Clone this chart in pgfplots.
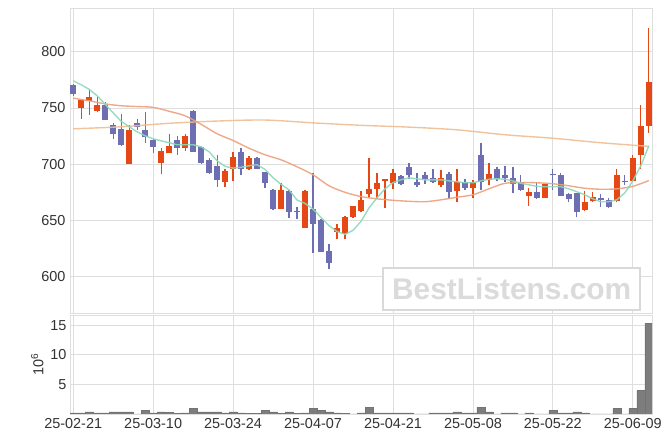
\documentclass[border=0pt]{standalone}
\usepackage{fontspec}
\setmainfont{Liberation Sans}
\usepackage{pgfplots}
\pgfplotsset{compat=1.18}
\usepackage{pgfplotstable}

\definecolor{upc}{RGB}{229,72,20}
\definecolor{dnc}{RGB}{110,110,178}
\definecolor{ma5}{RGB}{140,216,186}
\definecolor{ma20}{RGB}{236,160,125}
\definecolor{ma60}{RGB}{240,188,145}
\definecolor{gridc}{RGB}{222,222,222}
\definecolor{volc}{RGB}{125,125,125}

\pgfplotstableread{
i o h l c
1 750 757 740 757
2 756 767 744 760
3 747 760 746 753
7 700.5 735 700 730
11 701 714 691 712
12 710 727 710 716
14 714 727 712 725
19 684 696 680 694
20 696 711 685 706
22 696 707 695 705
26 660 683 660 677
29 643 677 643 676
33 640 647 633 643
34 638 654 633 653
35 653 663 652 663
36 658 676 657 668
37 673 705 670 678
38 678 692 669 683
39 685 687 661 687
40 683 696 678 692
46 681 695 680 688
48 676 696 666 684
50 679 686 670 684
52 686 701 681 691
57 672 679 663 675
59 670 682 670 682
64 659 676 658 666
65 667 675 666 671
68 667 696 666 690
70 685 708 684 705
71 708 753 696 734
72 734 821 728 773
}\upT

\pgfplotstableread{
i o h l c
0 770 771 761 762
4 753 755 739 739
5 735 737 722 727
6 731 745 716 717
8 737 740 730 733
9 730 746 719 724
10 721 722 710 715
13 721 725 708 714
15 747 748 711 711
16 715 716 700 701
17 704 705 691 692
18 698 708 680 686
21 711 714 690 696
23 705 706 696 696
24 693 693 679 683
25 677 678 659 660
27 676 677 652 657
28 658.5 662 651 657.5
30 660 692 621 647
31 650 651 622 622
32 623 629 607 612
41 689 690 681 682
42 697 701 687 690
43 684 692 680 681
44 690 693 682 687
45 688 696 683 684
47 691 693 669 675
49 684 687 677 679
51 708 719 677 684
53 696 697 685 687
54 690 698 684 688
55 688 697 674 682
56 684 690 676 677
58 675 684 669 670
60 691 696 677 690
61 690 692 672 672
62 673 674 666 669
63 674 674 653 657
66 670 673 662 668
67 668 670 661 662
69 685 690 681 684
}\dnT

\pgfplotstableread{
i v
0 0.17
1 0.17
2 0.34
3 0.17
4 0.17
5 0.34
6 0.34
7 0.34
8 0.03
9 0.56
10 0.17
11 0.34
12 0.23
13 0.05
14 0.17
15 0.9
16 0.34
17 0.34
18 0.34
19 0.17
20 0.34
21 0.17
22 0.05
23 0.05
24 0.56
25 0.34
26 0.05
27 0.34
28 0.05
29 0.17
30 0.9
31 0.56
32 0.34
33 0.17
34 0.05
35 0.02
36 0.17
37 1.18
38 0.17
39 0.17
40 0.17
41 0.17
42 0.17
43 0.02
44 0.02
45 0.17
46 0.17
47 0.17
48 0.34
49 0.17
50 0.17
51 1.18
52 0.34
53 0.02
54 0.17
55 0.17
56 0.02
57 0.17
58 0.02
59 0.02
60 0.56
61 0.17
62 0.17
63 0.34
64 0.17
65 0.02
66 0.02
67 0.02
68 0.9
69 0.02
70 0.9
71 3.94
72 15.3
}\volT

\pgfplotstableread{
i v
0 774.1
1 770.6
2 766.5
3 760.8
4 753.2
5 745.6
6 738.1
7 733.2
8 728.7
9 725.2
10 722.5
11 720.7
12 719
13 717.2
14 717.2
15 717.2
16 715.4
17 711
18 702.9
19 698
20 696.4
21 697.2
22 698.5
23 699.4
24 695.3
25 687.8
26 682
27 677
28 668
29 665
30 660
31 652.5
32 645.3
33 640
34 637.5
35 641
36 649
37 661
38 670
39 678
40 683.5
41 686
42 687.8
43 686.9
44 686
45 686
46 686
47 685.1
48 684.3
49 683.4
50 683.4
51 685.1
52 686.5
53 686.9
54 686.5
55 685.1
56 682.9
57 681.6
58 680.2
59 679.8
60 679.8
61 679.8
62 678
63 675.4
64 672.7
65 669.1
66 666.5
67 666.5
68 668.2
69 674.4
70 685
71 698.5
72 716.3
}\maA

\pgfplotstableread{
i v
0 758.7
2 756.3
4 753.6
6 751.9
8 751.2
10 750.5
12 747
14 743
16 735.4
18 727
20 721
22 714.1
24 708.3
26 703.8
28 697.6
30 690.5
32 680.7
34 674.9
36 671.1
38 669.1
40 667.8
42 666.9
44 666.5
46 668.2
48 670.5
50 672.7
52 678
54 682.9
56 683.6
58 683.4
60 682.5
62 680.7
64 678.5
66 677.6
68 678
70 680.2
72 685.3
}\maB

\pgfplotstableread{
i v
0 731.4
6 733.2
12 736.3
18 738.3
24 739.2
30 736.7
36 734.5
42 732.9
48 730.5
54 726.1
60 723
66 719
72 715.8
}\maC

\pgfplotsset{
  candax/.style={
    scale only axis, width=582bp,
    xmin=-0.4, xmax=72.4,
    xtick={0,10,...,70},
    grid=major, grid style={gridc, line width=0.8bp},
    axis line style={gridc, line width=0.8bp},
    major tick length=0,
    tick label style={font=\fontsize{14.5}{17}\selectfont, text=black!80},
    /pgf/number format/assume math mode=true,
  },
  cand/.style 2 args={draw=none, no markers, forget plot,
    error bars/.cd, y dir=plus, y explicit, error mark=none,
    error bar style={line width=#1, draw=#2}},
}

\begin{document}
\begin{tikzpicture}
\path[use as bounding box] (0,0) rectangle (671bp,444bp);

\begin{axis}[candax,
  at={(70bp,131bp)}, anchor=south west, height=305bp,
  ymin=567.5, ymax=838.9, ytick={600,650,...,800},
  xticklabels={},
  yticklabel style={xshift=-1bp},
]
\node[draw=gray!30, line width=1.5bp, fill=white, minimum width=257bp, minimum height=42bp,
  text=gray!28, font=\fontsize{30}{30}\bfseries\selectfont, inner sep=0pt]
  at (rel axis cs:0.759,0.079) {BestListens.com};

% wicks
\addplot[cand={1.2bp}{upc}]
  table[x=i, y=l, y error plus expr=\thisrow{h}-\thisrow{l}] {\upT};
\addplot[cand={1.2bp}{dnc}]
  table[x=i, y=l, y error plus expr=\thisrow{h}-\thisrow{l}] {\dnT};
% bodies
\addplot[cand={5.6bp}{upc}]
  table[x=i, y=o, y error plus expr=\thisrow{c}-\thisrow{o}] {\upT};
\addplot[cand={5.6bp}{dnc}]
  table[x=i, y=c, y error plus expr=\thisrow{o}-\thisrow{c}] {\dnT};

\addplot[ma60, line width=1.4bp, smooth, opacity=0.9] table[x=i, y=v] {\maC};
\addplot[ma20, line width=1.4bp, smooth, opacity=0.9] table[x=i, y=v] {\maB};
\addplot[ma5, line width=1.4bp, opacity=0.9] table[x=i, y=v] {\maA};
\end{axis}

\begin{axis}[candax,
  at={(70bp,30bp)}, anchor=south west, height=99bp,
  ymin=0, ymax=16.75, ytick={5,10,15},
  xticklabels={25-02-21,25-03-10,25-03-24,25-04-07,25-04-21,25-05-08,25-05-22,25-06-09},
  ylabel={10\textsuperscript{6}},
  ylabel style={font=\fontsize{14.5}{17}\selectfont, text=black!80},
  xticklabel style={yshift=-1bp},
]
\addplot[ybar, bar width=1, bar shift=0pt, fill=volc, draw=black!55, line width=0.6bp]
  table[x=i, y=v] {\volT};
\end{axis}
\end{tikzpicture}
\end{document}
